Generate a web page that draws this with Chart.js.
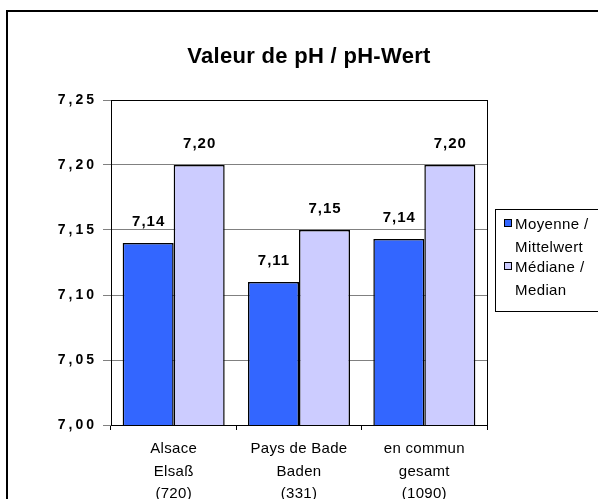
<!DOCTYPE html>
<html>
<head>
<meta charset="utf-8">
<script src="https://cdn.jsdelivr.net/npm/chart.js@4/dist/chart.umd.min.js"></script>
<style>
  html, body { margin: 0; padding: 0; background: #fff; }
  #wrap { position: relative; width: 598px; height: 499px; }
</style>
</head>
<body>
<div id="wrap"><canvas id="c" width="598" height="499"></canvas></div>
<script>
// ---- data ----
const categories = [
  ['Alsace', 'Elsaß', '(720)'],
  ['Pays de Bade', 'Baden', '(331)'],
  ['en commun', 'gesamt', '(1090)']
];
const moyenneValues = [7.14, 7.11, 7.143];
const medianeValues = [7.20, 7.15, 7.20];
const seriesNames = [['Moyenne /', 'Mittelwert'], ['Médiane /', 'Median']];
const titleText = 'Valeur de pH / pH-Wert';
const yMin = 7.00, yMax = 7.25, yStep = 0.05;

const FONT = "'Liberation Sans', Arial, sans-serif";
const fmt = v => Number(v).toFixed(2).replace('.', ',');

const framePlugin = {
  id: 'frame',
  beforeDraw(chart) {
    const ctx = chart.ctx;
    ctx.save();
    ctx.fillStyle = '#fff';
    ctx.fillRect(0, 0, chart.width, chart.height);
    ctx.strokeStyle = '#000';
    ctx.lineWidth = 2;
    ctx.strokeRect(7, 11, 800, 700);
    // title
    ctx.font = 'bold 22px ' + FONT;
    ctx.letterSpacing = '0.3px';
    ctx.fillStyle = '#000';
    ctx.textAlign = 'center';
    ctx.textBaseline = 'alphabetic';
    ctx.fillText(titleText, 309, 63);
    ctx.restore();
  },
  beforeDatasetsDraw(chart) {
    const a = chart.chartArea, ctx = chart.ctx;
    ctx.save();
    ctx.strokeStyle = '#000';
    ctx.lineWidth = 1;
    ctx.strokeRect(Math.round(a.left) + 0.5, Math.round(a.top) + 0.5, Math.round(a.right - a.left), Math.round(a.bottom - a.top));
    ctx.restore();
  },
  afterDatasetsDraw(chart) {
    const ctx = chart.ctx;
    ctx.save();
    ctx.font = 'bold 15px ' + FONT;
    ctx.letterSpacing = '1px';
    ctx.fillStyle = '#000';
    ctx.textAlign = 'center';
    ctx.textBaseline = 'middle';
    chart.data.datasets.forEach((ds, i) => {
      const meta = chart.getDatasetMeta(i);
      meta.data.forEach((bar, j) => {
        ctx.fillText(fmt(ds.data[j]), bar.x + 0.5, bar.y - 21);
      });
    });
    // legend
    const lx = 495, ly = 209, lh = 102;
    ctx.strokeStyle = '#000';
    ctx.lineWidth = 1;
    ctx.strokeRect(lx + 0.5, ly + 0.5, 200, lh);
    ctx.font = '15px ' + FONT;
    ctx.letterSpacing = '0.4px';
    ctx.textAlign = 'left';
    const itemTops = [224, 267];
    chart.data.datasets.forEach((ds, i) => {
      const cy = itemTops[i];
      ctx.fillStyle = ds.backgroundColor;
      ctx.fillRect(504, cy - 5, 8, 8);
      ctx.strokeStyle = '#000';
      ctx.strokeRect(504.5, cy - 4.5, 7, 7);
      ctx.fillStyle = '#000';
      seriesNames[i].forEach((t, k) => ctx.fillText(t, 515, cy + 1 + k * 23));
    });
    ctx.restore();
  }
};

function spacedLabels(scale, spacing) {
  if (scale._spacedPatched) return;
  scale._spacedPatched = true;
  const orig = scale.drawLabels.bind(scale);
  scale.drawLabels = function (area) {
    const c = this.ctx;
    c.save();
    c.letterSpacing = spacing;
    orig(area);
    c.restore();
  };
}

new Chart(document.getElementById('c'), {
  type: 'bar',
  data: {
    labels: categories,
    datasets: [
      { label: seriesNames[0].join(' '), data: moyenneValues, backgroundColor: '#3366FF', borderColor: '#000', borderWidth: 1.5 },
      { label: seriesNames[1].join(' '), data: medianeValues, backgroundColor: '#CCCCFF', borderColor: '#000', borderWidth: 1.5 }
    ]
  },
  options: {
    responsive: false,
    animation: false,
    devicePixelRatio: 1,
    layout: { padding: { left: 0, right: 111, top: 100, bottom: 0 } },
    datasets: { bar: { categoryPercentage: 0.814, barPercentage: 1.0 } },
    plugins: {
      legend: { display: false },
      tooltip: { enabled: false },
      title: { display: false }
    },
    scales: {
      x: {
        grid: { display: true, drawOnChartArea: false, color: '#000', tickLength: 5, offset: true },
        border: { display: true, color: '#000', width: 1 },
        ticks: { color: '#000', font: { family: FONT, size: 15, lineHeight: 1.5 }, padding: 8, maxRotation: 0, autoSkip: false },
        afterFit(scale) { scale.height = 74; spacedLabels(scale, '0.3px'); }
      },
      y: {
        min: yMin, max: yMax,
        grid: { color: '#808080', tickLength: 8, lineWidth: 1 },
        border: { display: true, color: '#000', width: 1 },
        ticks: {
          stepSize: yStep, color: '#000', padding: 6,
          font: { family: FONT, size: 14, weight: 'bold' },
          callback: v => fmt(v)
        },
        afterFit(scale) { scale.width = 111; spacedLabels(scale, '3px'); }
      }
    }
  },
  plugins: [framePlugin]
});
</script>
</body>
</html>
